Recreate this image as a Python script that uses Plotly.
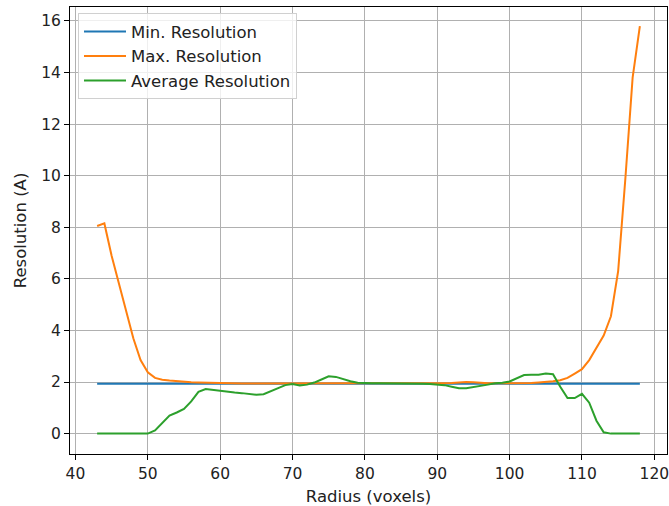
"""Resolution vs radius — min / max / average lines, matplotlib-like styling."""

import plotly.graph_objects as go

BLUE = "#1f77b4"
ORANGE = "#ff7f0e"
GREEN = "#2ca02c"
GRID = "#b0b0b0"

radius = list(range(43, 119))

min_res = [1.93] * len(radius)

max_res = [
    8.05, 8.15, 6.9, 5.8, 4.7, 3.7, 2.85, 2.38, 2.16, 2.09,  # 43-52
    2.06, 2.03, 2.01, 1.99, 1.98, 1.97, 1.96, 1.95, 1.95, 1.95,  # 53-62
    1.94, 1.94, 1.94, 1.94, 1.94, 1.94, 1.94, 1.94, 1.94, 1.94,  # 63-72
    1.94, 1.94, 1.94, 1.94, 1.94, 1.94, 1.94, 1.94, 1.94, 1.94,  # 73-82
    1.94, 1.94, 1.94, 1.94, 1.94, 1.94, 1.94, 1.94, 1.95, 1.96,  # 83-92
    1.98, 2.0, 1.99, 1.96, 1.95, 1.95, 1.95, 1.95, 1.95, 1.95,  # 93-102
    1.96, 1.98, 2.0, 2.03, 2.07, 2.16, 2.33, 2.5, 2.85, 3.35,  # 103-112
    3.8, 4.55, 6.3, 9.9, 13.8, 15.8,  # 113-118
]

avg_res = [
    0.0, 0.0, 0.0, 0.0, 0.0, 0.0, 0.0, 0.0, 0.12, 0.4,  # 43-52
    0.7, 0.82, 0.96, 1.25, 1.62, 1.73, 1.69, 1.65, 1.61, 1.59,  # 53-62
    1.57, 1.54, 1.51, 1.53, 1.64, 1.78, 1.88, 1.92, 1.87, 1.9,  # 63-72
    1.98, 2.1, 2.22, 2.2, 2.1, 2.03, 1.97, 1.95, 1.95, 1.95,  # 73-82
    1.95, 1.94, 1.93, 1.93, 1.93, 1.93, 1.92, 1.91, 1.88, 1.82,  # 83-92
    1.76, 1.76, 1.8, 1.85, 1.9, 1.95, 1.97, 2.02, 2.15, 2.27,  # 93-102
    2.28, 2.28, 2.33, 2.3, 1.82, 1.38, 1.38, 1.54, 1.2, 0.5,  # 103-112
    0.05, 0.0, 0.0, 0.0, 0.0, 0.0,  # 113-118
]

series = [
    ("Min. Resolution", min_res, BLUE),
    ("Max. Resolution", max_res, ORANGE),
    ("Average Resolution", avg_res, GREEN),
]

fig = go.Figure()
for i, (name, values, color) in enumerate(series):
    fig.add_trace(
        go.Scatter(
            x=radius,
            y=values,
            mode="lines",
            name=name,
            legendgroup=f"g{i}",
            line=dict(color=color, width=2),
        )
    )

axis_common = dict(
    showgrid=True,
    gridcolor=GRID,
    gridwidth=1,
    zeroline=False,
    showline=True,
    linecolor="black",
    linewidth=1,
    mirror=True,
    ticks="outside",
    ticklen=5,
    tickcolor="black",
    tickfont=dict(size=15.5, color="#222"),
    ticklabeloverflow="allow",
    automargin=False,
)

fig.update_layout(
    width=669,
    height=506,
    margin=dict(l=70, r=2, t=7, b=52),
    paper_bgcolor="white",
    plot_bgcolor="white",
    font=dict(family="DejaVu Sans", size=16, color="#222"),
    showlegend=True,
    legend=dict(
        x=0.0134,
        y=0.986,
        xanchor="left",
        yanchor="top",
        bgcolor="rgba(255,255,255,0.8)",
        bordercolor="#d0d0d0",
        borderwidth=1,
        font=dict(size=16.5),
        itemwidth=42,
        tracegroupgap=0,
    ),
    xaxis=dict(
        axis_common,
        range=[39.25, 121.75],
        tickvals=list(range(40, 121, 10)),
        title=dict(text="Radius (voxels)", font=dict(size=16.5), standoff=8),
    ),
    yaxis=dict(
        axis_common,
        range=[-0.79, 16.54],
        tickvals=list(range(0, 17, 2)),
        title=dict(text="Resolution (A)", font=dict(size=16.5), standoff=10),
    ),
)

fig.write_html(
    "out.html",
    config={"displayModeBar": False},
    post_script="document.body.style.margin='0';",
)
